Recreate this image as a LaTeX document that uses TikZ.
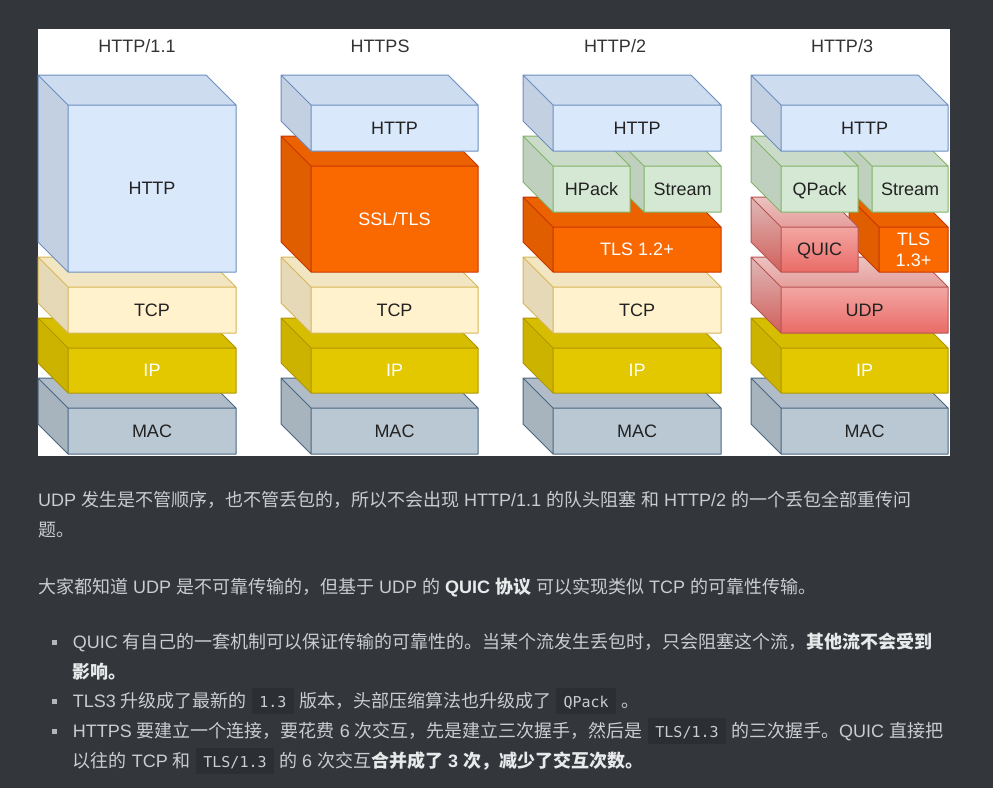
\documentclass[tikz,border=0pt]{standalone}
\usepackage{fontspec}
\setmainfont{Liberation Sans}
\newfontfamily\cjk{Noto Sans CJK SC}
\newfontfamily\codefont{DejaVu Sans Mono}
\usetikzlibrary{positioning}

\definecolor{pagebg}{HTML}{33373B}
\definecolor{bodytext}{HTML}{C9CCD0}
\definecolor{boldtext}{HTML}{E8E9EB}
\definecolor{codebg}{HTML}{2B2E32}
\definecolor{labelink}{HTML}{222222}
\definecolor{httpbg}{HTML}{DAE8FC}\definecolor{httpln}{HTML}{6C8EBF}
\definecolor{tcpbg}{HTML}{FFF2CC}\definecolor{tcpln}{HTML}{D6B656}
\definecolor{ipbg}{HTML}{E3C800}\definecolor{ipln}{HTML}{B09500}
\definecolor{macbg}{HTML}{BAC8D3}\definecolor{macln}{HTML}{4A6782}
\definecolor{tlsbg}{HTML}{FA6800}\definecolor{tlsln}{HTML}{C73500}
\definecolor{packbg}{HTML}{D5E8D4}\definecolor{packln}{HTML}{82B366}
\definecolor{udptop}{HTML}{F8CECC}\definecolor{udpbot}{HTML}{EA6B66}\definecolor{udpln}{HTML}{B85450}

\newcommand{\zh}[1]{{\cjk #1}}
\newcommand{\boldzh}[1]{{\color{boldtext}\bfseries #1}}
\newcommand{\code}[1]{{\setlength{\fboxsep}{0pt}\colorbox{codebg}{\hspace{7.5pt}\rule[-6.7pt]{0pt}{26pt}\codefont\fontsize{15}{18}\selectfont #1\hspace{7.5pt}}}}

\tikzset{
  httpcube/.style={fill=httpbg}, httpcube edge/.style={draw=httpln},
  tcpcube/.style={fill=tcpbg}, tcpcube edge/.style={draw=tcpln},
  ipcube/.style={fill=ipbg}, ipcube edge/.style={draw=ipln},
  maccube/.style={fill=macbg}, maccube edge/.style={draw=macln},
  tlscube/.style={fill=tlsbg}, tlscube edge/.style={draw=tlsln},
  packcube/.style={fill=packbg}, packcube edge/.style={draw=packln},
  udpcube/.style={top color=udptop, bottom color=udpbot}, udpcube edge/.style={draw=udpln},
  darklabel/.style={text=labelink, font=\fontsize{18}{21}\selectfont, align=center, inner sep=0pt, text depth=0pt},
  whitelabel/.style={darklabel, text=white},
  titlelabel/.style={darklabel, text=black!80},
  para/.style={anchor=base west, inner sep=0pt, text=bodytext, font=\fontsize{18}{30}\selectfont},
  bullet/.style={fill=bodytext!85!pagebg, minimum size=5pt, inner sep=0pt}
}

% cube layer: name, kind, x, y, width, height, label style, label
\newcommand{\layer}[8]{%
  \path[#2] (#3,#4) -- (#3+#5-30,#4) -- (#3+#5,#4+30) -- (#3+#5,#4+#6) -- (#3+30,#4+#6) -- (#3,#4+#6-30) -- cycle;
  \fill[black, opacity=0.05] (#3,#4) -- (#3+#5-30,#4) -- (#3+#5,#4+30) -- (#3+30,#4+30) -- cycle;
  \fill[black, opacity=0.1] (#3,#4) -- (#3+30,#4+30) -- (#3+30,#4+#6) -- (#3,#4+#6-30) -- cycle;
  \draw[#2 edge, line width=1pt, line join=round] (#3,#4) -- (#3+#5-30,#4) -- (#3+#5,#4+30) -- (#3+#5,#4+#6) -- (#3+30,#4+#6) -- (#3,#4+#6-30) -- cycle
    (#3,#4) -- (#3+30,#4+30) -- (#3+#5,#4+30) (#3+30,#4+30) -- (#3+30,#4+#6);
  \node[#7] (#1) at (#3+15+#5/2,#4+15+#6/2) {#8};
}

\begin{document}
\begin{tikzpicture}[x=1pt, y=-1pt]
   \fill[pagebg] (0,0) rectangle (993,788);
   \useasboundingbox (0,0) rectangle (993,788);
   \fill[white] (38,29) rectangle (950,456);

   % Titles
   \node [titlelabel] (t1) at (137,46) {HTTP/1.1};
   \node [titlelabel] (t2) at (380,46) {HTTPS};
   \node [titlelabel] (t3) at (615,46) {HTTP/2};
   \node [titlelabel] (t4) at (842,46) {HTTP/3};

   % HTTP/1.1
   \layer{mac1}{maccube}{38}{378}{198}{76}{darklabel}{MAC}
   \layer{ip1}{ipcube}{38}{318}{198}{75}{whitelabel}{IP}
   \layer{tcp1}{tcpcube}{38}{257}{198}{76}{darklabel}{TCP}
   \layer{http1}{httpcube}{38}{75}{198}{197}{darklabel}{HTTP}

   % HTTPS
   \layer{mac2}{maccube}{281}{378}{197}{76}{darklabel}{MAC}
   \layer{ip2}{ipcube}{281}{318}{197}{75}{whitelabel}{IP}
   \layer{tcp2}{tcpcube}{281}{257}{197}{76}{darklabel}{TCP}
   \layer{ssl2}{tlscube}{281}{136}{197}{136}{whitelabel}{SSL/TLS}
   \layer{http2}{httpcube}{281}{75}{197}{76}{darklabel}{HTTP}

   % HTTP/2
   \layer{mac3}{maccube}{523}{378}{198}{76}{darklabel}{MAC}
   \layer{ip3}{ipcube}{523}{318}{198}{75}{whitelabel}{IP}
   \layer{tcp3}{tcpcube}{523}{257}{198}{76}{darklabel}{TCP}
   \layer{tls3}{tlscube}{523}{197}{198}{75}{whitelabel}{TLS 1.2+}
   \layer{stream3}{packcube}{614}{136}{107}{76}{darklabel}{Stream}
   \layer{hpack3}{packcube}{523}{136}{107}{76}{darklabel}{HPack}
   \layer{http3}{httpcube}{523}{75}{198}{76}{darklabel}{HTTP}

   % HTTP/3
   \layer{mac4}{maccube}{751}{378}{197}{76}{darklabel}{MAC}
   \layer{ip4}{ipcube}{751}{318}{197}{75}{whitelabel}{IP}
   \layer{udp4}{udpcube}{751}{257}{197}{76}{darklabel}{UDP}
   \layer{tls4}{tlscube}{849}{197}{99}{75}{whitelabel}{TLS\\1.3+}
   \layer{quic4}{udpcube}{751}{197}{107}{75}{darklabel}{QUIC}
   \layer{stream4}{packcube}{842}{136}{106}{76}{darklabel}{Stream}
   \layer{qpack4}{packcube}{751}{136}{107}{76}{darklabel}{QPack}
   \layer{http4}{httpcube}{751}{75}{197}{76}{darklabel}{HTTP}

   % Text below
   \node [para] (p1a) at (38,506.5) {UDP \zh{发生是不管顺序，也不管丢包的，所以不会出现} HTTP/1.1 \zh{的队头阻塞} \zh{和} HTTP/2 \zh{的一个丢包全部重传问}};
   \node [para] (p1b) at (38,536.5) {\zh{题。}};
   \node [para] (p2) at (38,593.5) {\zh{大家都知道} UDP \zh{是不可靠传输的，但基于} UDP \zh{的} \boldzh{QUIC \zh{协议}} \zh{可以实现类似} TCP \zh{的可靠性传输。}};

   \node [bullet] (d1) at (54.5,642) {};
   \node [para] (b1a) at (72.7,648.5) {QUIC \zh{有自己的一套机制可以保证传输的可靠性的。当某个流发生丢包时，只会阻塞这个流，}\boldzh{\zh{其他流不会受到}}};
   \node [para] (b1b) at (72.7,678.5) {\boldzh{\zh{影响。}}};
   \node [bullet] (d2) at (54.5,701) {};
   \node [para] (b2) at (72.7,707.5) {TLS3 \zh{升级成了最新的} \code{1.3} \zh{版本，头部压缩算法也升级成了} \code{QPack} \zh{。}};
   \node [bullet] (d3) at (54.5,731) {};
   \node [para] (b3a) at (72.7,737.5) {HTTPS \zh{要建立一个连接，要花费} 6 \zh{次交互，先是建立三次握手，然后是} \code{TLS/1.3} \zh{的三次握手。}QUIC \zh{直接把}};
   \node [para] (b3b) at (72.7,767.5) {\zh{以往的} TCP \zh{和} \code{TLS/1.3} \zh{的} 6 \zh{次交互}\boldzh{\zh{合并成了} 3 \zh{次，减少了交互次数。}}};

\end{tikzpicture}
\end{document}
